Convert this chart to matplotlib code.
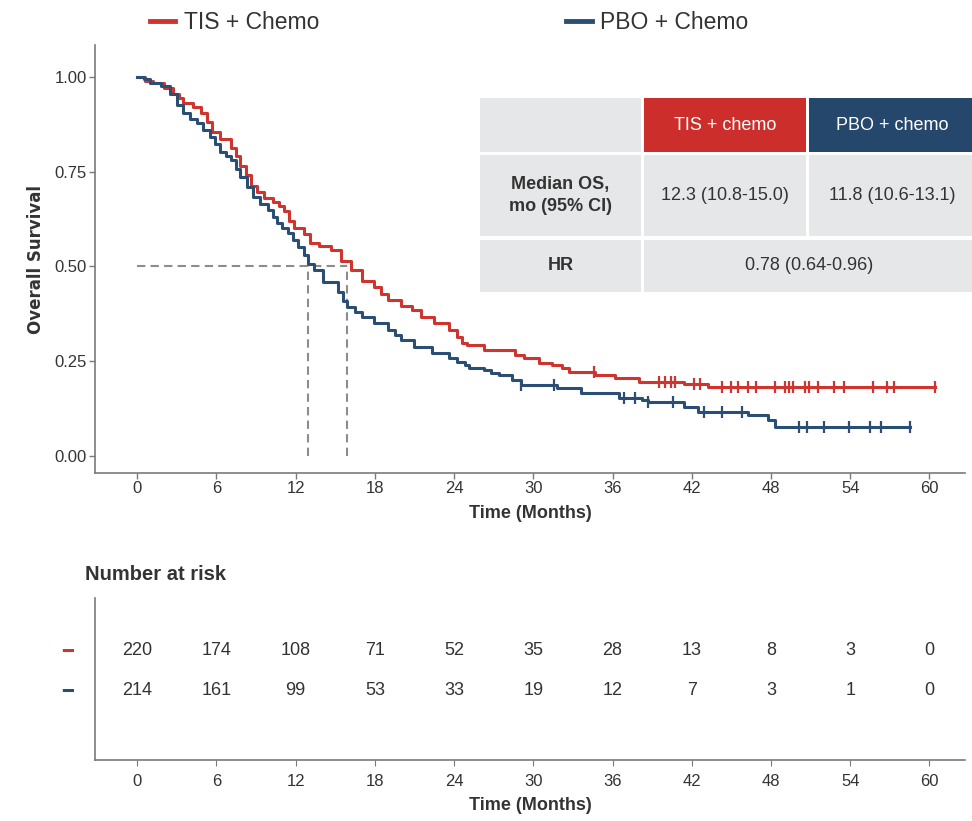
import numpy as np
import matplotlib
matplotlib.use('Agg')
import matplotlib.pyplot as plt
from matplotlib.patches import Rectangle

# Kaplan-Meier step points (months, survival)
tis_t = [0, 0.6, 1.2, 2.0, 2.7, 3.2, 3.5, 4.2, 4.8, 5.3, 5.7, 6.3, 7.1, 7.5, 7.8, 8.2,
         8.6, 9.1, 9.6, 10.3, 10.7, 11.1, 11.5, 11.9, 12.6, 13.1, 13.8, 14.7, 15.4,
         16.2, 17.0, 17.9, 18.5, 19.0, 20.0, 20.8, 21.5, 22.5, 23.6, 24.2, 24.6, 25.0,
         26.3, 28.6, 29.3, 30.4, 31.4, 32.2, 32.7, 34.7, 36.2, 38.0, 41.4, 43.2, 60.4]
tis_s = [1.0, 0.990, 0.983, 0.971, 0.955, 0.945, 0.931, 0.921, 0.905, 0.880, 0.855,
         0.835, 0.813, 0.790, 0.765, 0.740, 0.712, 0.695, 0.681, 0.670, 0.660, 0.645,
         0.620, 0.600, 0.585, 0.562, 0.555, 0.544, 0.515, 0.491, 0.462, 0.446, 0.428,
         0.412, 0.395, 0.385, 0.366, 0.351, 0.332, 0.315, 0.298, 0.293, 0.280, 0.266,
         0.258, 0.245, 0.240, 0.232, 0.222, 0.214, 0.206, 0.196, 0.190, 0.182, 0.182]
pbo_t = [0, 0.5, 1.0, 1.8, 2.5, 3.0, 3.5, 4.0, 4.5, 5.0, 5.5, 5.9, 6.3, 6.7, 7.1, 7.5,
         7.8, 8.3, 8.8, 9.3, 9.9, 10.3, 10.6, 11.0, 11.4, 11.8, 12.2, 12.6, 12.9, 13.4,
         14.1, 15.2, 15.6, 15.9, 16.5, 17.0, 17.9, 19.0, 19.5, 20.0, 21.0, 22.3, 23.6,
         24.2, 24.8, 25.1, 26.3, 26.8, 27.4, 28.4, 29.1, 31.8, 33.6, 36.5, 38.2, 38.7,
         41.4, 42.5, 46.3, 47.8, 48.3, 58.5]
pbo_s = [1.0, 0.993, 0.985, 0.975, 0.955, 0.925, 0.905, 0.890, 0.877, 0.860, 0.842,
         0.822, 0.802, 0.790, 0.780, 0.758, 0.736, 0.710, 0.683, 0.665, 0.650, 0.630,
         0.615, 0.600, 0.588, 0.570, 0.552, 0.530, 0.505, 0.490, 0.458, 0.433, 0.410,
         0.393, 0.380, 0.367, 0.351, 0.332, 0.320, 0.306, 0.288, 0.272, 0.259, 0.248,
         0.240, 0.232, 0.227, 0.219, 0.214, 0.201, 0.187, 0.179, 0.166, 0.153, 0.148,
         0.142, 0.129, 0.116, 0.108, 0.095, 0.077, 0.077]

# censor marks (months)
tis_cens = [34.6, 39.5, 40.0, 40.4, 40.7, 42.2, 42.6, 44.3, 45.0, 45.5, 46.3, 46.9,
            48.3, 49.1, 49.4, 49.7, 50.6, 50.9, 51.6, 52.8, 53.5, 55.7, 56.8, 57.3, 60.4]
pbo_cens = [29.1, 31.6, 36.9, 37.7, 38.7, 40.6, 42.9, 44.3, 45.8, 50.1, 50.7, 52.0,
            53.9, 55.5, 56.3, 58.5]

# median guide lines as drawn in the picture
median_pbo = 12.9
median_tis = 15.9

# number at risk
risk_times = [0, 6, 12, 18, 24, 30, 36, 42, 48, 54, 60]
risk_tis = [220, 174, 108, 71, 52, 35, 28, 13, 8, 3, 0]
risk_pbo = [214, 161, 99, 53, 33, 19, 12, 7, 3, 1, 0]

# summary table
tbl_header = ['TIS + chemo', 'PBO + chemo']
tbl_median = ['12.3 (10.8-15.0)', '11.8 (10.6-13.1)']
tbl_hr = '0.78 (0.64-0.96)'

RED = '#d0342f'
BLUE = '#2a4e74'
HEAD_RED = '#cc2f2b'
HEAD_BLUE = '#24476b'
CELL = '#e6e7e8'
TXT = '#333333'

plt.rcParams['font.family'] = ['Liberation Sans', 'DejaVu Sans']

fig = plt.figure(figsize=(9.72, 8.21), dpi=100)


def surv_at(t, times, surv):
    idx = np.searchsorted(times, t, side='right') - 1
    return np.array(surv)[idx]


# ---- KM plot ----
ax = fig.add_axes([95 / 972, 1 - 473 / 821, 870 / 972, 428 / 821])
ax.step(tis_t, tis_s, where='post', color=RED, lw=2.2, zorder=3)
ax.step(pbo_t, pbo_s, where='post', color=BLUE, lw=2.2, zorder=3)
ax.plot(tis_cens, surv_at(tis_cens, tis_t, tis_s), ls='none', marker='|',
        ms=8, mew=1.6, color=RED, zorder=4)
ax.plot(pbo_cens, surv_at(pbo_cens, pbo_t, pbo_s), ls='none', marker='|',
        ms=8, mew=1.6, color=BLUE, zorder=4)

dash = (0, (4, 2.5))
ax.plot([0, median_tis], [0.5, 0.5], ls=dash, color='#8c8c8c', lw=1.5, zorder=2)
ax.plot([median_pbo, median_pbo], [0, 0.5], ls=dash, color='#8c8c8c', lw=1.5, zorder=2)
ax.plot([median_tis, median_tis], [0, 0.5], ls=dash, color='#8c8c8c', lw=1.5, zorder=2)

ax.set_xlim(-3.2, 62.7)
ax.set_ylim(-0.045, 1.084)
ax.set_xticks(risk_times)
ax.set_yticks([0, 0.25, 0.5, 0.75, 1.0])
ax.set_yticklabels(['0.00', '0.25', '0.50', '0.75', '1.00'])
for s in ['top', 'right']:
    ax.spines[s].set_visible(False)
for s in ['left', 'bottom']:
    ax.spines[s].set_color('#7a7a7a')
    ax.spines[s].set_linewidth(1.2)
ax.tick_params(colors='#7a7a7a', labelcolor=TXT, labelsize=12, length=4, width=1, pad=2)
ax.set_xlabel('Time (Months)', fontsize=13, fontweight='bold', color=TXT, labelpad=6)
ax.set_ylabel('Overall Survival', fontsize=12, fontweight='bold', color=TXT,
              family=['DejaVu Sans'], labelpad=7)

# legend on top
ax.plot([], [], color=RED, lw=3.5, label='TIS + Chemo')
ax.plot([], [], color=BLUE, lw=3.5, label='PBO + Chemo')
fig.legend(handles=ax.lines[-2:], loc='center', bbox_to_anchor=(0.462, 0.973),
           ncol=2, frameon=False, fontsize=16.5, handlelength=1.1, handletextpad=0.35,
           columnspacing=10.8, labelcolor=TXT)

# ---- summary table ----
tax = fig.add_axes([480 / 972, 1 - 292 / 821, 492 / 972, 194 / 821])
tax.set_xlim(480, 972)
tax.set_ylim(292, 98)
tax.axis('off')
cols = [(480, 641), (644, 806), (809, 975)]
rows = [(98, 152), (155, 236), (240, 292)]
head_cols = [CELL, HEAD_RED, HEAD_BLUE]
for ci, (x0, x1) in enumerate(cols):
    tax.add_patch(Rectangle((x0, rows[0][0]), x1 - x0, rows[0][1] - rows[0][0],
                            color=head_cols[ci], lw=0, clip_on=False))
    tax.add_patch(Rectangle((x0, rows[1][0]), x1 - x0, rows[1][1] - rows[1][0],
                            color=CELL, lw=0, clip_on=False))
tax.add_patch(Rectangle((cols[0][0], rows[2][0]), cols[0][1] - cols[0][0],
                        rows[2][1] - rows[2][0], color=CELL, lw=0, clip_on=False))
tax.add_patch(Rectangle((cols[1][0], rows[2][0]), cols[2][1] - cols[1][0],
                        rows[2][1] - rows[2][0], color=CELL, lw=0, clip_on=False))


def cx(c):
    return (cols[c][0] + cols[c][1]) / 2


def ry(r):
    return (rows[r][0] + rows[r][1]) / 2


for i, h in enumerate(tbl_header):
    tax.text(cx(i + 1), ry(0), h, color='white', fontsize=13, ha='center', va='center')
tax.text(cx(0), ry(1), 'Median OS,\nmo (95% CI)', color=TXT, fontsize=13,
         fontweight='bold', ha='center', va='center', linespacing=1.4)
for i, m in enumerate(tbl_median):
    tax.text(cx(i + 1), ry(1), m, color=TXT, fontsize=13, ha='center', va='center')
tax.text(cx(0), ry(2), 'HR', color=TXT, fontsize=13, fontweight='bold',
         ha='center', va='center')
tax.text((cols[1][0] + cols[2][1]) / 2, ry(2), tbl_hr, color=TXT, fontsize=13,
         ha='center', va='center')

# ---- number at risk ----
rax = fig.add_axes([95 / 972, 61 / 821, 870 / 972, 162 / 821])
rax.set_xlim(-3.2, 62.7)
rax.set_ylim(-0.75, 3.3)
for t, a, b in zip(risk_times, risk_tis, risk_pbo):
    rax.text(t, 2, str(a), ha='center', va='center', fontsize=13, color=TXT)
    rax.text(t, 1, str(b), ha='center', va='center', fontsize=13, color=TXT)
rax.set_xticks(risk_times)
rax.set_yticks([2, 1])
rax.set_yticklabels(['\u2501', '\u2501'], family=['DejaVu Sans'], fontsize=13)
for lab, c in zip(rax.get_yticklabels(), [RED, BLUE]):
    lab.set_color(c)
for s in ['top', 'right']:
    rax.spines[s].set_visible(False)
for s in ['left', 'bottom']:
    rax.spines[s].set_color('#7a7a7a')
    rax.spines[s].set_linewidth(1.2)
rax.tick_params(axis='x', colors='#7a7a7a', labelcolor=TXT, labelsize=12, length=4, pad=6)
rax.tick_params(axis='y', length=0, pad=16)
rax.set_xlabel('Time (Months)', fontsize=13, fontweight='bold', color=TXT, labelpad=6)
fig.text(85 / 972, 1 - 575 / 821, 'Number at risk', fontsize=14.5, fontweight='bold',
         color=TXT, ha='left', va='center')

fig.savefig('out.png', dpi=100)
